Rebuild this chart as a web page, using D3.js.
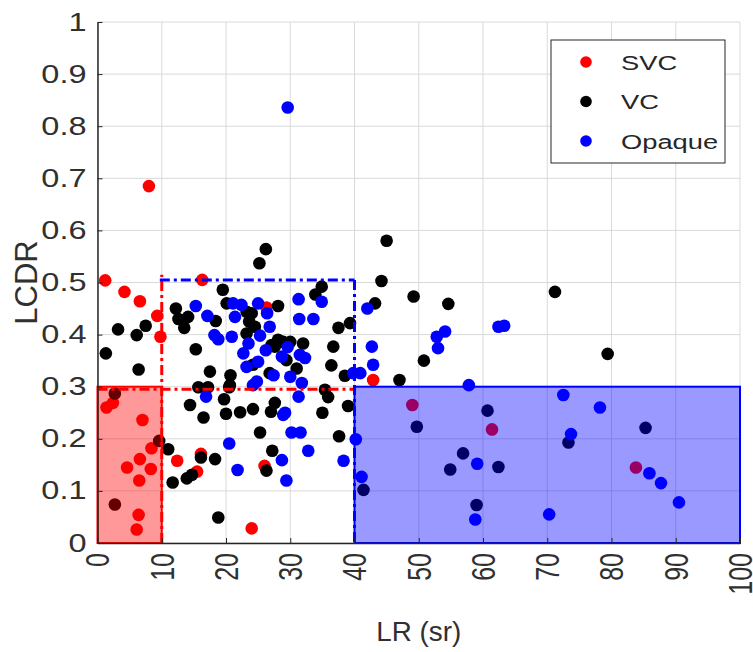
<!DOCTYPE html>
<html>
  <head>
    <meta charset="utf-8" />
    <script src="https://d3js.org/d3.v7.min.js"></script>
    <style>
      body { margin: 0; background: #fff; }
      text { font-family: "Liberation Sans", Arial, sans-serif; fill: #262626; }
    </style>
  </head>
  <body>
    <svg id="chart"></svg>
    <script>

      // [LR (sr), LCDR]
      var svc = [
        [8.0,0.685],[1.2,0.504],[4.2,0.482],[6.6,0.464],[9.3,0.436],[9.8,0.396],[16.3,0.505],
        [26.3,0.452],[42.9,0.313],[49.0,0.265],[61.4,0.218],[83.8,0.145],[1.4,0.260],[2.4,0.269],
        [7.0,0.236],[8.4,0.182],[6.6,0.161],[4.6,0.145],[8.3,0.142],[6.5,0.120],[6.4,0.054],
        [6.1,0.026],[12.4,0.158],[16.1,0.171],[15.5,0.137],[24.0,0.028],[26.0,0.148]
      ];
      var vc = [
        [2.7,0.287],[9.6,0.196],[2.7,0.074],[26.2,0.564],[25.2,0.537],[19.5,0.486],[28.1,0.455],
        [12.2,0.450],[14.1,0.434],[12.6,0.430],[13.5,0.413],[18.4,0.426],[7.5,0.417],[6.1,0.399],
        [3.2,0.410],[1.3,0.364],[6.4,0.333],[15.3,0.372],[17.5,0.329],[20.7,0.322],[20.6,0.303],
        [20.1,0.460],[23.2,0.444],[23.6,0.425],[23.2,0.402],[27.6,0.377],[28.9,0.386],[29.4,0.351],
        [26.8,0.326],[15.7,0.299],[17.2,0.299],[20.5,0.299],[34.9,0.492],[33.9,0.477],[24.0,0.441],
        [24.5,0.415],[37.5,0.413],[39.3,0.422],[28.1,0.390],[30.0,0.386],[32.0,0.383],[27.1,0.380],
        [36.7,0.377],[36.4,0.341],[38.5,0.321],[24.2,0.342],[31.0,0.335],[35.4,0.294],[35.9,0.280],
        [44.2,0.503],[49.2,0.473],[54.6,0.459],[43.2,0.460],[50.8,0.350],[47.0,0.313],[35.0,0.250],
        [39.0,0.263],[37.6,0.205],[49.7,0.223],[56.9,0.172],[54.9,0.141],[59.0,0.073],[41.4,0.102],
        [60.7,0.254],[85.3,0.221],[73.3,0.193],[62.4,0.146],[71.2,0.482],[79.4,0.363],[45.0,0.580],
        [14.4,0.265],[16.5,0.241],[19.7,0.276],[20.0,0.248],[22.2,0.251],[24.2,0.257],[27.0,0.252],
        [27.6,0.269],[25.3,0.212],[27.2,0.177],[26.3,0.139],[16.1,0.164],[18.3,0.161],[14.7,0.131],
        [13.9,0.124],[11.7,0.116],[11.0,0.180],[18.8,0.049]
      ];
      var opaque = [
        [29.6,0.836],[15.3,0.455],[17.1,0.436],[18.2,0.399],[18.8,0.391],[20.9,0.396],[21.1,0.460],
        [22.4,0.457],[21.4,0.434],[25.0,0.460],[26.4,0.441],[26.8,0.415],[25.3,0.398],[23.5,0.383],
        [22.7,0.364],[23.2,0.338],[25.0,0.348],[26.2,0.370],[28.7,0.358],[29.6,0.376],[27.4,0.322],
        [24.8,0.310],[24.2,0.303],[31.3,0.468],[34.9,0.463],[31.4,0.430],[33.6,0.430],[30.0,0.319],
        [31.8,0.307],[31.5,0.361],[32.3,0.355],[39.8,0.326],[42.0,0.450],[52.8,0.396],[54.1,0.406],
        [53.0,0.374],[42.7,0.377],[42.9,0.342],[40.9,0.326],[57.8,0.303],[31.3,0.281],[28.9,0.246],
        [29.2,0.250],[30.2,0.212],[31.6,0.212],[32.8,0.177],[28.7,0.159],[38.3,0.158],[29.4,0.120],
        [40.2,0.199],[41.1,0.127],[58.8,0.045],[62.4,0.415],[63.3,0.417],[72.5,0.284],[78.2,0.260],
        [73.7,0.209],[59.1,0.152],[85.9,0.134],[87.7,0.115],[90.5,0.078],[70.3,0.055],[16.9,0.281],
        [20.5,0.191],[21.8,0.140]
      ];

      var seriesNames = ["SVC", "VC", "Opaque"];
      var seriesColors = ["#ff0000", "#000000", "#0000ff"];

      var xTicks = d3.range(0, 101, 10);
      var yTicks = d3.range(0, 11).map(function(i) { return i / 10; });

      // shaded boxes [x0, x1, y0, y1]
      var svcBox = [0, 10, 0, 0.3];
      var opaqueBox = [40, 100, 0, 0.3];
      // dash-dot guide lines [x0, y0, x1, y1]
      var redGuides = [[10, 0, 10, 0.515], [0, 0.295, 40, 0.295]];
      var blueGuides = [[9.7, 0.505, 40, 0.505], [40, 0.505, 40, 0]];

      var width = 753, height = 652;
      var margin = { top: 22, right: 13, bottom: 109, left: 97.5 };
      var stretch = 1.3; // text in the figure is drawn wide

      var svg = d3.select("#chart")
        .attr("width", width)
        .attr("height", height);

      var x = d3.scaleLinear()
        .domain([0, 100])
        .range([margin.left, width - margin.right]);

      var y = d3.scaleLinear()
        .domain([0, 1])
        .range([height - margin.bottom, margin.top]);

      // grid
      var grid = svg.append("g").attr("stroke", "#d9d9d9").attr("stroke-width", 1);
      grid.selectAll(".gx").data(xTicks).enter().append("line")
        .attr("x1", function(d) { return x(d); })
        .attr("x2", function(d) { return x(d); })
        .attr("y1", y(0)).attr("y2", y(1));
      grid.selectAll(".gy").data(yTicks).enter().append("line")
        .attr("y1", function(d) { return y(d); })
        .attr("y2", function(d) { return y(d); })
        .attr("x1", x(0)).attr("x2", x(100));

      // points
      [svc, vc, opaque].forEach(function(set, i) {
        svg.append("g").selectAll("circle")
          .data(set)
          .enter().append("circle")
          .attr("cx", function(d) { return x(d[0]); })
          .attr("cy", function(d) { return y(d[1]); })
          .attr("r", 6.3)
          .style("fill", seriesColors[i]);
      });

      // shaded regions
      function box(b, color) {
        svg.append("rect")
          .attr("x", x(b[0]))
          .attr("y", y(b[3]))
          .attr("width", x(b[1]) - x(b[0]))
          .attr("height", y(b[2]) - y(b[3]))
          .style("fill", color)
          .style("fill-opacity", 0.4)
          .style("stroke", color)
          .style("stroke-width", 2);
      }
      box(svcBox, "#ff0000");
      box(opaqueBox, "#0000ff");

      function guides(lines, color) {
        svg.append("g").selectAll("line")
          .data(lines)
          .enter().append("line")
          .attr("x1", function(d) { return x(d[0]); })
          .attr("y1", function(d) { return y(d[1]); })
          .attr("x2", function(d) { return x(d[2]); })
          .attr("y2", function(d) { return y(d[3]); })
          .style("stroke", color)
          .style("stroke-width", 3)
          .style("stroke-dasharray", "10,4,3,4");
      }
      guides(redGuides, "#ff0000");
      guides(blueGuides, "#0000ff");

      // axes
      var yAxis = d3.axisLeft(y)
        .tickValues(yTicks)
        .tickSize(-5)
        .tickSizeOuter(0)
        .tickFormat(function(d) { return d === 0 ? "0" : d === 1 ? "1" : d3.format(".1f")(d); });

      var gy = svg.append("g")
        .attr("transform", "translate(" + x(0) + ",0)")
        .call(yAxis);
      gy.select(".domain").attr("stroke", "#262626").attr("stroke-width", 1.5);
      gy.selectAll(".tick line").attr("stroke", "#262626");
      gy.selectAll("text")
        .attr("x", -11 / stretch)
        .attr("transform", "scale(" + stretch + ",1)")
        .style("font-size", "25px")
        .style("fill", "#303030");

      var xAxis = d3.axisBottom(x)
        .tickValues(xTicks)
        .tickSize(-5)
        .tickSizeOuter(0);

      var gx = svg.append("g")
        .attr("transform", "translate(0," + y(0) + ")")
        .call(xAxis);
      gx.select(".domain").attr("stroke", "#262626").attr("stroke-width", 1.5);
      gx.selectAll(".tick line").attr("stroke", "#262626");
      gx.selectAll("text")
        .attr("x", -10)
        .attr("y", 0)
        .attr("dy", "0.35em")
        .attr("text-anchor", "end")
        .attr("transform", "scale(" + stretch + ",1) rotate(-90)")
        .style("font-size", "25px")
        .style("fill", "#303030");

      // axis titles
      svg.append("text")
        .attr("transform", "translate(" + ((x(0) + x(100)) / 2) + ",641) scale(1.03,1)")
        .attr("text-anchor", "middle")
        .style("font-size", "27px")
        .style("fill", "#303030")
        .text("LR (sr)");

      svg.append("text")
        .attr("transform", "translate(37," + y(0.5) + ") rotate(-90)")
        .attr("text-anchor", "middle")
        .style("font-size", "31px")
        .style("fill", "#303030")
        .text("LCDR");

      // legend
      var legend = svg.append("g");
      legend.append("rect")
        .attr("x", 551).attr("y", 40)
        .attr("width", 174).attr("height", 123)
        .style("fill", "#fff")
        .style("stroke", "#262626")
        .style("stroke-width", 1);

      var item = legend.selectAll(".item")
        .data(seriesNames)
        .enter().append("g")
        .attr("transform", function(d, i) { return "translate(586," + (62 + i * 39.5) + ")"; });
      item.append("circle")
        .attr("r", 5.8)
        .style("fill", function(d, i) { return seriesColors[i]; });
      item.append("text")
        .attr("transform", "translate(35,0) scale(" + stretch + ",1)")
        .attr("dy", "0.36em")
        .style("font-size", "21px")
        .text(function(d) { return d; });

    </script>
  </body>
</html>
